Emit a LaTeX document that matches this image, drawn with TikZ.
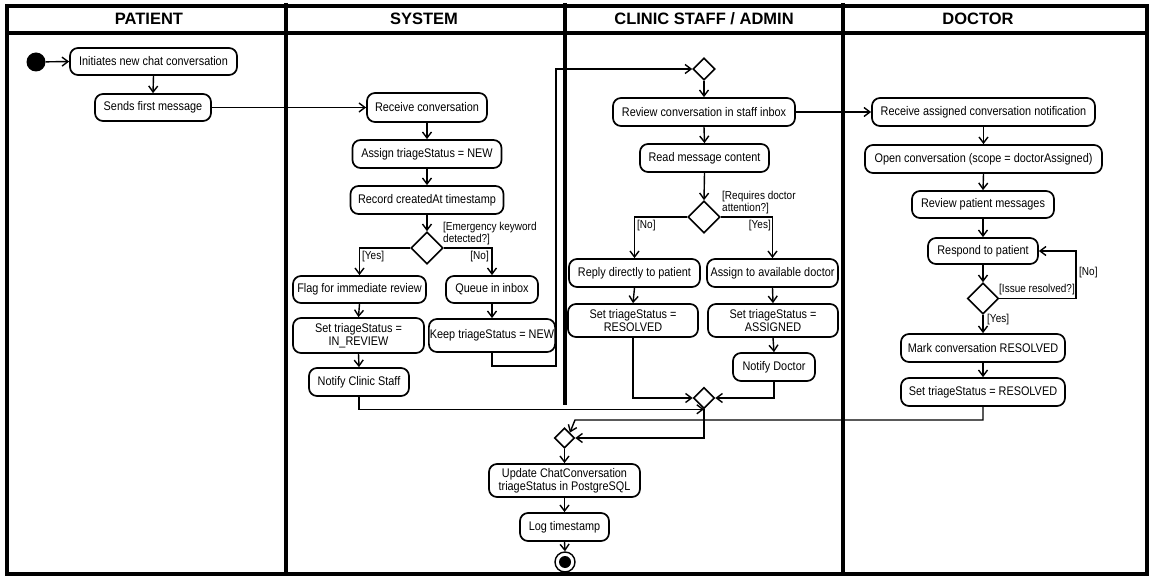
\documentclass[tikz,border=0pt]{standalone}
\usepackage{fontspec}
\setmainfont{Liberation Sans}
\newfontfamily\narrowsans[FakeStretch=0.87]{Liberation Sans}
\usetikzlibrary{shapes.geometric,arrows.meta,calc}

\begin{document}
\begin{tikzpicture}[x=1pt,y=-1pt,
  act/.style={draw, line width=1.7pt, rounded corners=8pt, align=center,
    inner sep=1pt, minimum height=28pt,
    font=\narrowsans\fontsize{12.5}{13}\selectfont},
  dec/.style={draw, diamond, line width=1.6pt, inner sep=0pt,
    minimum width=#1, minimum height=#1},
  guard/.style={inner sep=0pt, align=left,
    font=\narrowsans\fontsize{11.5}{12}\selectfont},
  flow/.style={line width=1.4pt, -{Straight Barb[length=6pt,width=9pt]}},
  lane/.style={line width=3.2pt},
  head/.style={inner sep=0pt, font=\bfseries\fontsize{16.5}{18}\selectfont}
]
\useasboundingbox (0,0) rectangle (1151,577);
\fill[white] (0,0) rectangle (1151,577);

% swimlane frame
\draw[lane] (7,6) rectangle (1147,574);
\draw[lane] (5,33) -- (1147,33);
\draw[lane] (286,3) -- (286,574);
\draw[lane] (565,3) -- (565,405);
\draw[lane] (843,3) -- (843,574);

\node[head] (hp) at (149,19) {PATIENT};
\node[head] (hs) at (424,19) {SYSTEM};
\node[head] (hc) at (704,19) {CLINIC STAFF / ADMIN};
\node[head] (hd) at (978,19) {DOCTOR};

% patient
\node[circle, fill=black, minimum size=19pt, inner sep=0pt] (start) at (36,62) {};
\node[act, minimum width=167pt, minimum height=27pt] (p1) at (153.5,61.5) {Initiates new chat conversation};
\node[act, minimum width=116pt, minimum height=27pt] (p2) at (153,107.5) {Sends first message};

% system
\node[act, minimum width=120pt, minimum height=29pt] (s1) at (427,107.5) {Receive conversation};
\node[act, minimum width=149pt] (s2) at (427,154) {Assign triageStatus = NEW};
\node[act, minimum width=153pt] (s3) at (427,200) {Record createdAt timestamp};
\node[dec=32pt] (d1) at (427,248) {};
\node[act, minimum width=133pt, minimum height=27pt] (s4) at (359.5,289.5) {Flag for immediate review};
\node[act, minimum width=92pt, minimum height=27pt] (s5) at (492,289.5) {Queue in inbox};
\node[act, minimum width=131pt, minimum height=35pt] (s6) at (358.5,335.5) {Set triageStatus =\\IN\_REVIEW};
\node[act, minimum width=122pt, minimum height=33pt] (s7) at (492,335.5) {Keep triageStatus = NEW};
\node[act, minimum width=100pt] (s8) at (359,382) {Notify Clinic Staff};
\node[dec=20pt] (m2) at (564.5,438) {};
\node[act, minimum width=151pt, minimum height=33pt] (s9) at (564.5,480.5) {Update ChatConversation\\triageStatus in PostgreSQL};
\node[act, minimum width=89pt] (s10) at (564.5,527) {Log timestamp};
\node[circle, draw, line width=1.4pt, minimum size=20pt, inner sep=0pt] (stop) at (565,562) {};
\node[circle, fill=black, minimum size=12pt, inner sep=0pt] (stopdot) at (stop) {};

% clinic staff
\node[dec=22pt] (m1) at (704,69) {};
\node[act, minimum width=182pt] (c1) at (704,112) {Review conversation in staff inbox};
\node[act, minimum width=129pt] (c2) at (704.5,158) {Read message content};
\node[dec=32pt] (d2) at (704,217) {};
\node[act, minimum width=131pt] (c3) at (634.5,273) {Reply directly to patient};
\node[act, minimum width=131pt] (c4) at (772.5,273) {Assign to available doctor};
\node[act, minimum width=130pt, minimum height=33pt] (c5) at (633,320.5) {Set triageStatus =\\RESOLVED};
\node[act, minimum width=130pt, minimum height=33pt] (c6) at (773,320.5) {Set triageStatus =\\ASSIGNED};
\node[act, minimum width=82pt] (c7) at (774,367) {Notify Doctor};
\node[dec=21pt] (m3) at (704,398) {};

% doctor
\node[act, minimum width=223pt] (r1) at (983.5,112) {Receive assigned conversation notification};
\node[act, minimum width=237pt] (r2) at (983.5,159) {Open conversation (scope = doctorAssigned)};
\node[act, minimum width=142pt, minimum height=27pt] (r3) at (983,204.5) {Review patient messages};
\node[act, minimum width=110pt, minimum height=26pt] (r4) at (983,251) {Respond to patient};
\node[dec=31pt] (d3) at (983,298.5) {};
\node[act, minimum width=164pt] (r5) at (983,348) {Mark conversation RESOLVED};
\node[act, minimum width=164pt] (r6) at (983,392) {Set triageStatus = RESOLVED};

% guard labels
\node[guard, anchor=west] (g1) at (443,234) {[Emergency keyword\\detected?]};
\node[guard, anchor=west] (g2) at (362,257) {[Yes]};
\node[guard, anchor=east] (g3) at (489,257) {[No]};
\node[guard, anchor=west] (g4) at (722,203) {[Requires doctor\\attention?]};
\node[guard, anchor=west] (g5) at (637,226) {[No]};
\node[guard, anchor=east] (g6) at (771,226) {[Yes]};
\node[guard, anchor=west] (g7) at (999,290) {[Issue resolved?]};
\node[guard, anchor=west] (g8) at (1079,273) {[No]};
\node[guard, anchor=west] (g9) at (987,320) {[Yes]};

% routing points
\coordinate (k1) at (556,366);
\coordinate (k2) at (556,69);
\coordinate (j1) at (575,420);
\coordinate (q1) at (1076,298.5);

% patient flow
\draw[flow] (start) -- (p1.west);
\draw[flow] (p1.south) -- (p2.north);
\draw[flow] (p2.east) -- (s1.west);

% system flow
\draw[flow] (s1.south) -- (s2.north);
\draw[flow] (s2.south) -- (s3.north);
\draw[flow] (s3.south) -- (d1.north);
\draw[flow] (d1.west) -| (s4.north);
\draw[flow] (d1.east) -| (s5.north);
\draw[flow] (s4.south) -- (s6.north);
\draw[flow] (s6.south) -- (s8.north);
\draw[flow] (s5.south) -- (s7.north);
\draw[flow] (s7.south) |- (k1) -- (k2) -- (m1.west);
\draw[flow] (s8.south) |- (m3.south);

% clinic flow
\draw[flow] (m1.south) -- (c1.north);
\draw[flow] (c1.south) -- (c2.north);
\draw[flow] (c2.south) -- (d2.north);
\draw[flow] (d2.west) -| (c3.north);
\draw[flow] (d2.east) -| (c4.north);
\draw[flow] (c3.south) -- (c5.north);
\draw[flow] (c4.south) -- (c6.north);
\draw[flow] (c6.south) -- (c7.north);
\draw[flow] (c5.south) |- (m3.west);
\draw[flow] (c7.south) |- (m3.east);
\draw[flow] (c1.east) -- (r1.west);

% doctor flow
\draw[flow] (r1.south) -- (r2.north);
\draw[flow] (r2.south) -- (r3.north);
\draw[flow] (r3.south) -- (r4.north);
\draw[flow] (r4.south) -- (d3.north);
\draw[flow] (d3.east) -- (q1) |- (r4.east);
\draw[flow] (d3.south) -- (r5.north);
\draw[flow] (r5.south) -- (r6.north);

% final merge and persistence
\draw[flow] (m3.south) |- (m2.east);
\draw[flow] (r6.south) |- (j1) -- (m2.north east);
\draw[flow] (m2.south) -- (s9.north);
\draw[flow] (s9.south) -- (s10.north);
\draw[flow] (s10.south) -- (stop.north);
\end{tikzpicture}
\end{document}
